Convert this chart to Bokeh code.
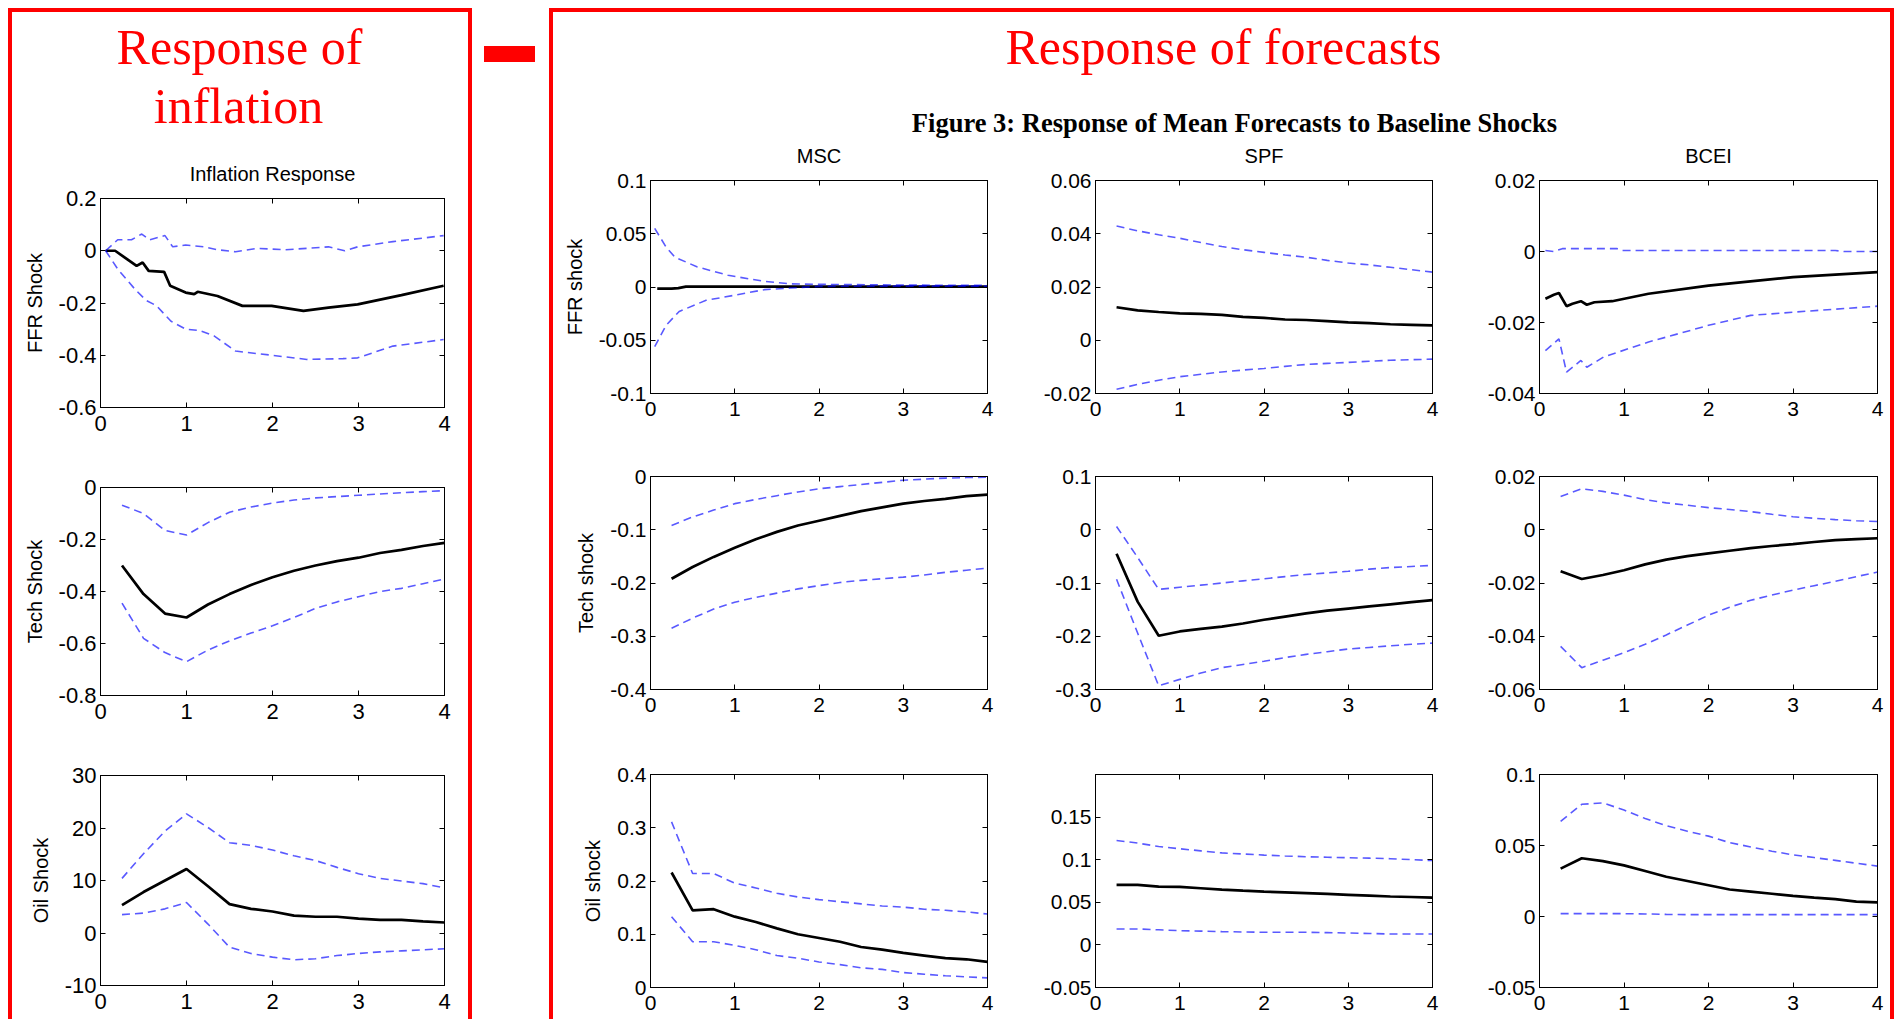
from bokeh.plotting import figure
from bokeh.models import Range1d, FixedTicker, LinearAxis, Div, Spacer
from bokeh.layouts import row, column
from bokeh.core.properties import value
from bokeh.embed import file_html
from bokeh.resources import INLINE

# ---------------- data ----------------
QUARTERS = [0.25, 0.5, 0.75, 1.0, 1.25, 1.5, 1.75, 2.0, 2.25, 2.5, 2.75, 3.0, 3.25, 3.5, 3.75, 4.0]
X_TICKS = [0, 1, 2, 3, 4]
X_TICK_LABELS = ["0", "1", "2", "3", "4"]

# Inflation response, FFR shock (monthly-ish)
infl_ffr_mean_x = [0.06, 0.17, 0.30, 0.42, 0.49, 0.56, 0.74, 0.81, 0.99, 1.09, 1.13, 1.36, 1.65, 1.99, 2.36, 2.65, 2.99, 3.5, 3.99]
infl_ffr_mean = [0.0, 0.0, -0.03, -0.058, -0.045, -0.077, -0.081, -0.134, -0.16, -0.166, -0.157, -0.173, -0.211, -0.211, -0.23, -0.218, -0.205, -0.17, -0.134]
infl_ffr_up_x = [0.06, 0.20, 0.36, 0.48, 0.57, 0.75, 0.84, 0.99, 1.2, 1.36, 1.57, 1.82, 2.15, 2.4, 2.65, 2.84, 2.99, 3.4, 3.99]
infl_ffr_up = [0.0, 0.042, 0.042, 0.064, 0.042, 0.058, 0.015, 0.022, 0.015, 0.004, -0.004, 0.009, 0.004, 0.009, 0.015, 0.0, 0.015, 0.035, 0.058]
infl_ffr_lo_x = [0.06, 0.20, 0.40, 0.53, 0.65, 0.82, 0.99, 1.15, 1.32, 1.57, 1.99, 2.4, 2.82, 2.99, 3.4, 3.99]
infl_ffr_lo = [0.0, -0.07, -0.147, -0.19, -0.21, -0.27, -0.30, -0.305, -0.326, -0.384, -0.40, -0.416, -0.413, -0.41, -0.365, -0.34]

infl_tech_mean = [-0.30, -0.41, -0.485, -0.50, -0.45, -0.41, -0.375, -0.345, -0.32, -0.30, -0.283, -0.27, -0.252, -0.24, -0.225, -0.213]
infl_tech_up = [-0.068, -0.10, -0.165, -0.183, -0.135, -0.095, -0.075, -0.06, -0.048, -0.04, -0.035, -0.03, -0.025, -0.02, -0.016, -0.012]
infl_tech_lo = [-0.445, -0.58, -0.635, -0.67, -0.625, -0.59, -0.56, -0.532, -0.50, -0.465, -0.44, -0.42, -0.40, -0.388, -0.37, -0.352]

infl_oil_mean = [5.3, 7.8, 10.0, 12.2, 8.9, 5.5, 4.6, 4.1, 3.3, 3.1, 3.1, 2.75, 2.5, 2.5, 2.2, 2.0]
infl_oil_up = [10.4, 15.1, 19.4, 22.7, 20.1, 17.2, 16.7, 15.8, 14.7, 13.8, 12.5, 11.3, 10.4, 9.9, 9.4, 8.6]
infl_oil_lo = [3.5, 3.8, 4.6, 5.8, 1.7, -2.7, -3.9, -4.6, -5.1, -4.9, -4.3, -3.9, -3.6, -3.4, -3.2, -3.0]

# MSC
msc_ffr_mean_x = [0.08, 0.25, 0.33, 0.42, 1.0, 2.0, 3.0, 4.0]
msc_ffr_mean = [-0.0015, -0.0015, -0.001, 0.0003, 0.0003, 0.0003, 0.0003, 0.0003]
msc_ffr_up_x = [0.05, 0.185, 0.29, 0.55, 0.92, 1.35, 1.66, 2.0, 3.0, 4.0]
msc_ffr_up = [0.055, 0.0375, 0.028, 0.019, 0.011, 0.0053, 0.003, 0.0025, 0.0018, 0.0015]
msc_ffr_lo_x = [0.05, 0.185, 0.34, 0.66, 0.98, 1.35, 1.66, 2.0, 3.0, 4.0]
msc_ffr_lo = [-0.056, -0.036, -0.023, -0.0125, -0.008, -0.0025, -0.001, 0.0006, 0.0008, 0.0008]

msc_tech_mean = [-0.192, -0.17, -0.151, -0.134, -0.118, -0.104, -0.092, -0.083, -0.074, -0.065, -0.058, -0.051, -0.046, -0.042, -0.037, -0.034]
msc_tech_up = [-0.092, -0.076, -0.063, -0.051, -0.043, -0.036, -0.029, -0.023, -0.019, -0.015, -0.011, -0.007, -0.005, -0.003, -0.002, -0.0015]
msc_tech_lo = [-0.285, -0.266, -0.249, -0.236, -0.227, -0.219, -0.211, -0.205, -0.199, -0.195, -0.192, -0.189, -0.185, -0.18, -0.176, -0.172]

msc_oil_mean = [0.216, 0.145, 0.147, 0.133, 0.123, 0.111, 0.1, 0.093, 0.086, 0.076, 0.071, 0.065, 0.06, 0.055, 0.053, 0.048]
msc_oil_up = [0.311, 0.214, 0.214, 0.196, 0.187, 0.177, 0.17, 0.165, 0.161, 0.157, 0.153, 0.151, 0.147, 0.145, 0.142, 0.138]
msc_oil_lo = [0.133, 0.086, 0.086, 0.079, 0.071, 0.06, 0.055, 0.048, 0.043, 0.037, 0.034, 0.028, 0.025, 0.022, 0.02, 0.018]

# SPF
spf_ffr_mean = [0.0124, 0.0112, 0.0106, 0.0101, 0.0099, 0.0095, 0.0088, 0.0084, 0.0078, 0.0076, 0.0072, 0.0067, 0.0064, 0.0060, 0.0058, 0.0056]
spf_ffr_up = [0.0429, 0.0411, 0.0396, 0.0383, 0.0367, 0.0352, 0.034, 0.033, 0.032, 0.0312, 0.030, 0.029, 0.0283, 0.0274, 0.0265, 0.0256]
spf_ffr_lo = [-0.0184, -0.0166, -0.0150, -0.0137, -0.0128, -0.0119, -0.0112, -0.0106, -0.0098, -0.0091, -0.0087, -0.0083, -0.0079, -0.0075, -0.0073, -0.0071]

spf_tech_mean = [-0.045, -0.135, -0.199, -0.191, -0.186, -0.182, -0.176, -0.169, -0.163, -0.157, -0.152, -0.148, -0.144, -0.140, -0.136, -0.132]
spf_tech_up = [0.006, -0.052, -0.112, -0.108, -0.104, -0.100, -0.096, -0.092, -0.088, -0.084, -0.081, -0.078, -0.074, -0.071, -0.069, -0.067]
spf_tech_lo = [-0.093, -0.194, -0.293, -0.281, -0.269, -0.259, -0.253, -0.247, -0.240, -0.234, -0.229, -0.224, -0.221, -0.218, -0.215, -0.213]

spf_oil_mean = [0.0704, 0.0704, 0.0685, 0.068, 0.0665, 0.0648, 0.0636, 0.0626, 0.0617, 0.0608, 0.0598, 0.0588, 0.0578, 0.0568, 0.0562, 0.0556]
spf_oil_up = [0.1226, 0.1195, 0.1155, 0.1128, 0.1104, 0.108, 0.1067, 0.1054, 0.1044, 0.1035, 0.1029, 0.1023, 0.1018, 0.1012, 0.1001, 0.0990]
spf_oil_lo = [0.0187, 0.0187, 0.0177, 0.0167, 0.0162, 0.0156, 0.0152, 0.0148, 0.0148, 0.0148, 0.0144, 0.014, 0.0134, 0.0128, 0.0128, 0.0128]

# BCEI
bcei_ffr_mean_x = [0.07, 0.17, 0.23, 0.32, 0.39, 0.49, 0.56, 0.65, 0.86, 1.29, 2.0, 3.0, 4.0]
bcei_ffr_mean = [-0.0133, -0.0122, -0.0117, -0.0154, -0.0147, -0.014, -0.015, -0.0143, -0.014, -0.0119, -0.0096, -0.0072, -0.0058]
bcei_ffr_up_x = [0.07, 0.17, 0.27, 0.92, 0.98, 3.5, 3.6, 4.0]
bcei_ffr_up = [0.0003, 0.0, 0.0008, 0.0008, 0.0003, 0.0003, 0.0, 0.0]
bcei_ffr_lo_x = [0.07, 0.23, 0.32, 0.49, 0.56, 0.76, 1.29, 2.0, 2.5, 3.0, 4.0]
bcei_ffr_lo = [-0.0279, -0.0246, -0.034, -0.0307, -0.0326, -0.0297, -0.0255, -0.0208, -0.018, -0.0171, -0.0154]

bcei_tech_mean = [-0.0156, -0.0185, -0.017, -0.0152, -0.013, -0.0112, -0.0099, -0.0089, -0.0079, -0.0069, -0.0061, -0.0054, -0.0046, -0.0039, -0.0035, -0.0032]
bcei_tech_up = [0.0125, 0.0154, 0.0144, 0.013, 0.0113, 0.0101, 0.0092, 0.0083, 0.0076, 0.0068, 0.0058, 0.0049, 0.0043, 0.0038, 0.0034, 0.0031]
bcei_tech_lo = [-0.0438, -0.0518, -0.049, -0.0462, -0.043, -0.0395, -0.0358, -0.0321, -0.0291, -0.0265, -0.0245, -0.0227, -0.021, -0.0194, -0.0176, -0.0159]

bcei_oil_mean = [0.0337, 0.041, 0.039, 0.036, 0.032, 0.028, 0.025, 0.022, 0.019, 0.0175, 0.016, 0.0145, 0.0133, 0.0122, 0.0105, 0.01]
bcei_oil_up = [0.067, 0.079, 0.08, 0.075, 0.069, 0.064, 0.06, 0.0566, 0.052, 0.049, 0.046, 0.0434, 0.0415, 0.0395, 0.0375, 0.0355]
bcei_oil_lo = [0.002, 0.002, 0.002, 0.002, 0.0018, 0.0015, 0.0013, 0.0013, 0.0013, 0.0013, 0.0013, 0.0013, 0.0013, 0.0013, 0.0013, 0.0013]

# y ticks / labels per panel
yt_infl_ffr = [-0.6, -0.4, -0.2, 0, 0.2]; yl_infl_ffr = ["-0.6", "-0.4", "-0.2", "0", "0.2"]
yt_infl_tech = [-0.8, -0.6, -0.4, -0.2, 0]; yl_infl_tech = ["-0.8", "-0.6", "-0.4", "-0.2", "0"]
yt_infl_oil = [-10, 0, 10, 20, 30]; yl_infl_oil = ["-10", "0", "10", "20", "30"]
yt_msc_ffr = [-0.1, -0.05, 0, 0.05, 0.1]; yl_msc_ffr = ["-0.1", "-0.05", "0", "0.05", "0.1"]
yt_spf_ffr = [-0.02, 0, 0.02, 0.04, 0.06]; yl_spf_ffr = ["-0.02", "0", "0.02", "0.04", "0.06"]
yt_bcei_ffr = [-0.04, -0.02, 0, 0.02]; yl_bcei_ffr = ["-0.04", "-0.02", "0", "0.02"]
yt_msc_tech = [-0.4, -0.3, -0.2, -0.1, 0]; yl_msc_tech = ["-0.4", "-0.3", "-0.2", "-0.1", "0"]
yt_spf_tech = [-0.3, -0.2, -0.1, 0, 0.1]; yl_spf_tech = ["-0.3", "-0.2", "-0.1", "0", "0.1"]
yt_bcei_tech = [-0.06, -0.04, -0.02, 0, 0.02]; yl_bcei_tech = ["-0.06", "-0.04", "-0.02", "0", "0.02"]
yt_msc_oil = [0, 0.1, 0.2, 0.3, 0.4]; yl_msc_oil = ["0", "0.1", "0.2", "0.3", "0.4"]
yt_spf_oil = [-0.05, 0, 0.05, 0.1, 0.15]; yl_spf_oil = ["-0.05", "0", "0.05", "0.1", "0.15"]
yt_bcei_oil = [-0.05, 0, 0.05, 0.1]; yl_bcei_oil = ["-0.05", "0", "0.05", "0.1"]

# ---------------- styling ----------------
SANS = "Liberation Sans"
SERIF = "Liberation Serif"
RED = "#ff0000"
BLUE = "#0000ff"
FS = "20px"


def style_axis(ax, ticks, labels, show, fs, standoff):
    ax.ticker = FixedTicker(ticks=ticks)
    ax.major_tick_in = 5
    ax.major_tick_out = 0
    ax.minor_tick_line_color = None
    ax.axis_line_color = "black"
    ax.major_tick_line_color = "black"
    if show:
        ax.major_label_overrides = dict(zip(ticks, labels))
        ax.major_label_text_font = SANS
        ax.major_label_text_font_size = fs
        ax.major_label_text_color = "black"
        ax.major_label_standoff = standoff
    else:
        ax.major_label_text_font_size = "0px"
        ax.major_label_text_color = None
        ax.major_label_standoff = 0


def panel(w, h, bl, br, bt, bb, yr, yticks, ylabels, mean, up, lo, ylabel=None, fs="21px"):
    p = figure(width=w, height=h, x_range=Range1d(0, 4), y_range=Range1d(yr[0], yr[1]),
               output_backend="svg", toolbar_location=None,
               min_border_left=bl, min_border_right=br, min_border_top=bt, min_border_bottom=bb)
    p.background_fill_color = "white"
    p.border_fill_color = "white"
    p.outline_line_color = "black"
    p.outline_line_width = 1
    p.outline_line_alpha = 1
    p.grid.visible = False
    p.line(mean[0], mean[1], line_color="black", line_width=2.7)
    p.line(up[0], up[1], line_color=BLUE, line_alpha=0.65, line_width=1.6, line_dash="8 5")
    p.line(lo[0], lo[1], line_color=BLUE, line_alpha=0.65, line_width=1.6, line_dash="8 5")
    style_axis(p.below[0], X_TICKS, X_TICK_LABELS, True, fs, 8)
    style_axis(p.left[0], yticks, ylabels, True, fs, 4)
    top = LinearAxis()
    right = LinearAxis()
    p.add_layout(top, "above")
    p.add_layout(right, "right")
    style_axis(top, X_TICKS, X_TICK_LABELS, False, fs, 0)
    style_axis(right, yticks, ylabels, False, fs, 0)
    if ylabel:
        ax = p.left[0]
        ax.axis_label = ylabel
        ax.axis_label_text_font = SANS
        ax.axis_label_text_font_size = FS
        ax.axis_label_text_font_style = "normal"
        ax.axis_label_text_color = "black"
        ax.axis_label_standoff = 10
    return p


def header(w, h):
    p = figure(width=w, height=h, x_range=Range1d(0, w), y_range=Range1d(0, h),
               output_backend="svg", toolbar_location=None, min_border=0,
               x_axis_type=None, y_axis_type=None)
    p.outline_line_color = None
    p.background_fill_color = "white"
    p.border_fill_color = "white"
    return p


def txt(p, x, y, s, font, size, color, style="normal"):
    p.text(x=[x], y=[y], text=[s], text_font=value(font), text_font_size=value(size),
           text_color=color, text_align="center", text_baseline="alphabetic",
           text_font_style=style)


def bar(w, h):
    return Div(text="", width=w, height=h, margin=0, styles={"background-color": RED})


Qx = QUARTERS

# ---------------- left box ----------------
hL = header(456, 173)
txt(hL, 227, 139, "Response of", SERIF, "50px", RED)
txt(hL, 226, 80, "inflation", SERIF, "50px", RED)
txt(hL, 260, 12, "Inflation Response", SANS, FS, "black")

L1 = panel(456, 265, 88, 24, 13, 43, (-0.6, 0.2), yt_infl_ffr, yl_infl_ffr,
           (infl_ffr_mean_x, infl_ffr_mean), (infl_ffr_up_x, infl_ffr_up), (infl_ffr_lo_x, infl_ffr_lo), "FFR Shock", "22px")
L2 = panel(456, 285, 88, 24, 37, 40, (-0.8, 0), yt_infl_tech, yl_infl_tech,
           (Qx, infl_tech_mean), (Qx, infl_tech_up), (Qx, infl_tech_lo), "Tech Shock", "22px")
L3 = panel(456, 284, 88, 24, 40, 34, (-10, 30), yt_infl_oil, yl_infl_oil,
           (Qx, infl_oil_mean), (Qx, infl_oil_up), (Qx, infl_oil_lo), "Oil Shock", "22px")

HL = 4 + 173 + 265 + 285 + 284
left_box = row([bar(4, HL),
                column([bar(456, 4), row([hL], spacing=0), row([L1], spacing=0),
                        row([L2], spacing=0), row([L3], spacing=0)], spacing=0),
                bar(4, HL)], spacing=0)

# ---------------- gap with dash ----------------
gap = column([Spacer(width=77, height=38, margin=0),
              row([Spacer(width=12, height=16, margin=0), bar(51, 16)], spacing=0)], spacing=0)

# ---------------- right box ----------------
hR = header(1337, 158)
txt(hR, 670, 124, "Response of forecasts", SERIF, "50px", RED)
txt(hR, 681, 48, "Figure 3: Response of Mean Forecasts to Baseline Shocks", SERIF, "26.5px", "black", "bold")
txt(hR, 265.5, 15, "MSC", SANS, FS, "black")
txt(hR, 710.5, 15, "SPF", SANS, FS, "black")
txt(hR, 1155, 15, "BCEI", SANS, FS, "black")

W = [(482, 97, 48), (445, 60, 48), (410, 59, 13)]
ROWS = [(255, 10, 32), (295, 51, 31), (299, 54, 32)]

R11 = panel(W[0][0], ROWS[0][0], W[0][1], W[0][2], ROWS[0][1], ROWS[0][2], (-0.1, 0.1), yt_msc_ffr, yl_msc_ffr,
            (msc_ffr_mean_x, msc_ffr_mean), (msc_ffr_up_x, msc_ffr_up), (msc_ffr_lo_x, msc_ffr_lo), "FFR shock")
R12 = panel(W[1][0], ROWS[0][0], W[1][1], W[1][2], ROWS[0][1], ROWS[0][2], (-0.02, 0.06), yt_spf_ffr, yl_spf_ffr,
            (Qx, spf_ffr_mean), (Qx, spf_ffr_up), (Qx, spf_ffr_lo))
R13 = panel(W[2][0], ROWS[0][0], W[2][1], W[2][2], ROWS[0][1], ROWS[0][2], (-0.04, 0.02), yt_bcei_ffr, yl_bcei_ffr,
            (bcei_ffr_mean_x, bcei_ffr_mean), (bcei_ffr_up_x, bcei_ffr_up), (bcei_ffr_lo_x, bcei_ffr_lo))

R21 = panel(W[0][0], ROWS[1][0], W[0][1], W[0][2], ROWS[1][1], ROWS[1][2], (-0.4, 0), yt_msc_tech, yl_msc_tech,
            (Qx, msc_tech_mean), (Qx, msc_tech_up), (Qx, msc_tech_lo), "Tech shock")
R22 = panel(W[1][0], ROWS[1][0], W[1][1], W[1][2], ROWS[1][1], ROWS[1][2], (-0.3, 0.1), yt_spf_tech, yl_spf_tech,
            (Qx, spf_tech_mean), (Qx, spf_tech_up), (Qx, spf_tech_lo))
R23 = panel(W[2][0], ROWS[1][0], W[2][1], W[2][2], ROWS[1][1], ROWS[1][2], (-0.06, 0.02), yt_bcei_tech, yl_bcei_tech,
            (Qx, bcei_tech_mean), (Qx, bcei_tech_up), (Qx, bcei_tech_lo))

R31 = panel(W[0][0], ROWS[2][0], W[0][1], W[0][2], ROWS[2][1], ROWS[2][2], (0, 0.4), yt_msc_oil, yl_msc_oil,
            (Qx, msc_oil_mean), (Qx, msc_oil_up), (Qx, msc_oil_lo), "Oil shock")
R32 = panel(W[1][0], ROWS[2][0], W[1][1], W[1][2], ROWS[2][1], ROWS[2][2], (-0.05, 0.2), yt_spf_oil, yl_spf_oil,
            (Qx, spf_oil_mean), (Qx, spf_oil_up), (Qx, spf_oil_lo))
R33 = panel(W[2][0], ROWS[2][0], W[2][1], W[2][2], ROWS[2][1], ROWS[2][2], (-0.05, 0.1), yt_bcei_oil, yl_bcei_oil,
            (Qx, bcei_oil_mean), (Qx, bcei_oil_up), (Qx, bcei_oil_lo))

HR = 4 + 158 + 255 + 295 + 299
right_box = row([bar(4, HR),
                 column([bar(1337, 4), row([hR], spacing=0),
                         row([R11, R12, R13], spacing=0),
                         row([R21, R22, R23], spacing=0),
                         row([R31, R32, R33], spacing=0)], spacing=0),
                 bar(4, HR)], spacing=0)

page = column([Spacer(width=1894, height=8, margin=0),
               row([Spacer(width=8, height=HL, margin=0), left_box, gap, right_box], spacing=0)],
              spacing=0)

open("out.html", "w").write(file_html(page, INLINE))
